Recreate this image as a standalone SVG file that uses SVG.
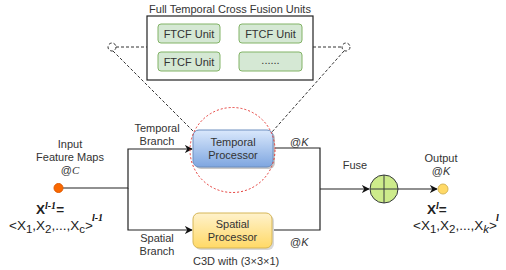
<svg xmlns="http://www.w3.org/2000/svg" width="506" height="270" viewBox="0 0 506 270">
  <style>
    .lbl { font-family: "Liberation Sans", Arial, sans-serif; font-size: 11px; fill: #333; }
    .ser { font-family: "Liberation Serif", "Times New Roman", serif; font-style: italic; }
    .it { font-style: italic; }
    .eq { font-family: "Liberation Sans", Arial, sans-serif; font-size: 13.5px; fill: #222; }
    .sup { font-family: "Liberation Serif", "Times New Roman", serif; font-style: italic; font-weight: bold; font-size: 10px; fill: #111; }
    .wire { fill: none; stroke: #222; stroke-width: 1.2; }
    .dash { fill: none; stroke: #333; stroke-width: 1; stroke-dasharray: 3 2; }
    .unit { fill: #d5e8d4; stroke: #82b366; stroke-width: 1; }
  </style>
  <defs>
    <linearGradient id="gBlue" x1="0" y1="0" x2="0" y2="1">
      <stop offset="0" stop-color="#dae8fc"/>
      <stop offset="1" stop-color="#7ea6e0"/>
    </linearGradient>
    <linearGradient id="gYellow" x1="0" y1="0" x2="0" y2="1">
      <stop offset="0" stop-color="#fff2cc"/>
      <stop offset="1" stop-color="#ffd966"/>
    </linearGradient>
    <marker id="arrow" viewBox="0 0 10 10" refX="9" refY="5" markerWidth="8" markerHeight="8" markerUnits="userSpaceOnUse" orient="auto">
      <path d="M0,0 L10,5 L0,10 L3,5 Z" fill="#111"/>
    </marker>
  </defs>

  <!-- expanded view of the fusion units -->
  <g id="fusion-units">
    <text class="lbl" x="230" y="13" text-anchor="middle">Full Temporal Cross Fusion Units</text>
    <rect x="147" y="16" width="166" height="64" fill="#fff" stroke="#222" stroke-width="1.2"/>
    <rect class="unit" x="158" y="24" width="62" height="19" rx="3"/>
    <text class="lbl" x="189" y="37.5" text-anchor="middle">FTCF Unit</text>
    <rect class="unit" x="239" y="24" width="63" height="19" rx="3"/>
    <text class="lbl" x="270.5" y="37.5" text-anchor="middle">FTCF Unit</text>
    <rect class="unit" x="158" y="52" width="62" height="19" rx="3"/>
    <text class="lbl" x="189" y="65.5" text-anchor="middle">FTCF Unit</text>
    <rect class="unit" x="239" y="52" width="63" height="19" rx="3"/>
    <text class="lbl" x="270.5" y="64" text-anchor="middle" font-size="9">......</text>
  </g>

  <!-- zoom callout -->
  <g id="callout">
    <circle class="dash" cx="112" cy="47" r="4"/>
    <circle class="dash" cx="346" cy="47" r="4"/>
    <line class="dash" x1="116" y1="47" x2="147" y2="47"/>
    <line class="dash" x1="313" y1="47" x2="342" y2="47"/>
    <line class="dash" x1="113" y1="51" x2="193" y2="131"/>
    <line class="dash" x1="344" y1="51" x2="272" y2="132"/>
  </g>

  <!-- connectors -->
  <g id="connectors">
    <path class="wire" d="M63,188 H128 V149 H192" marker-end="url(#arrow)"/>
    <path class="wire" d="M128,188 V230 H192" marker-end="url(#arrow)"/>
    <path class="wire" d="M273,148 H320 V230 H272"/>
    <path class="wire" d="M320,189 H369" marker-end="url(#arrow)"/>
    <path class="wire" d="M398,189 H437" marker-end="url(#arrow)"/>
    <rect x="290" y="136" width="22" height="11" fill="#fff"/>
    <text class="lbl" x="290" y="146">@<tspan class="it">K</tspan></text>
    <text class="lbl" x="290" y="246">@<tspan class="it">K</tspan></text>
    <text class="lbl" x="157" y="132" text-anchor="middle">Temporal</text>
    <text class="lbl" x="157" y="145" text-anchor="middle">Branch</text>
    <text class="lbl" x="157" y="242" text-anchor="middle">Spatial</text>
    <text class="lbl" x="157" y="255" text-anchor="middle">Branch</text>
  </g>

  <!-- input feature maps -->
  <g id="input">
    <text class="lbl" x="70" y="148" text-anchor="middle">Input</text>
    <text class="lbl" x="70" y="161" text-anchor="middle">Feature Maps</text>
    <text class="lbl" x="70" y="174" text-anchor="middle">@<tspan class="ser">C</tspan></text>
    <circle cx="58.5" cy="188" r="4.5" fill="#fa6800" stroke="#e05a00" stroke-width="1"/>
    <text class="eq" x="36" y="214" font-size="12" font-weight="bold">X<tspan class="sup" dy="-5">l-1</tspan><tspan dy="5">=</tspan></text>
    <text class="eq" x="9" y="230">&lt;X<tspan font-size="11.5" dy="3">1</tspan><tspan dy="-3">,X</tspan><tspan font-size="11.5" dy="3">2</tspan><tspan dy="-3">,...,X</tspan><tspan font-size="11.5" dy="3">c</tspan><tspan dy="-3">&gt;</tspan><tspan class="sup" dx="-1" dy="-9">l-1</tspan></text>
  </g>

  <!-- temporal processor -->
  <g id="temporal-processor">
    <rect x="195" y="132" width="80" height="37" rx="6" fill="#c8c8c8"/>
    <rect x="193" y="130" width="80" height="37" rx="6" fill="url(#gBlue)" stroke="#6c8ebf" stroke-width="1"/>
    <text class="lbl" x="233" y="146" text-anchor="middle">Temporal</text>
    <text class="lbl" x="233" y="159" text-anchor="middle">Processor</text>
    <circle cx="232.5" cy="150" r="42.5" fill="none" stroke="#e53935" stroke-width="1" stroke-dasharray="2 2"/>
  </g>

  <!-- spatial processor -->
  <g id="spatial-processor">
    <rect x="195" y="215" width="79" height="35" rx="6" fill="#d8d8d8"/>
    <rect x="193" y="213" width="79" height="35" rx="6" fill="url(#gYellow)" stroke="#d6b656" stroke-width="1"/>
    <text class="lbl" x="232.5" y="228" text-anchor="middle">Spatial</text>
    <text class="lbl" x="232.5" y="241" text-anchor="middle">Processor</text>
    <text class="lbl" x="193" y="265">C3D with (3×3×1)</text>
  </g>

  <!-- fusion node -->
  <g id="fuse">
    <text class="lbl" x="355" y="169" text-anchor="middle" font-size="12">Fuse</text>
    <circle cx="384" cy="189" r="14" fill="#cdeb8b" stroke="#36393d" stroke-width="1"/>
    <line x1="370" y1="189" x2="398" y2="189" stroke="#36393d" stroke-width="1"/>
    <line x1="384" y1="175" x2="384" y2="203" stroke="#36393d" stroke-width="1"/>
  </g>

  <!-- output feature maps -->
  <g id="output">
    <text class="lbl" x="441" y="162" text-anchor="middle">Output</text>
    <text class="lbl" x="441" y="175" text-anchor="middle">@<tspan class="it">K</tspan></text>
    <circle cx="443" cy="189" r="5" fill="#ffd966" stroke="#d6b656" stroke-width="1"/>
    <text class="eq" x="427" y="214" font-size="12" font-weight="bold">X<tspan class="sup" dy="-5">l</tspan><tspan dy="5">=</tspan></text>
    <text class="eq" x="413" y="230">&lt;X<tspan font-size="11.5" dy="3">1</tspan><tspan dy="-3">,X</tspan><tspan font-size="11.5" dy="3">2</tspan><tspan dy="-3">,...,X</tspan><tspan class="it" font-size="11.5" dy="3">k</tspan><tspan dy="-3">&gt;</tspan><tspan class="sup" dx="-1" dy="-9">l</tspan></text>
  </g>
</svg>
